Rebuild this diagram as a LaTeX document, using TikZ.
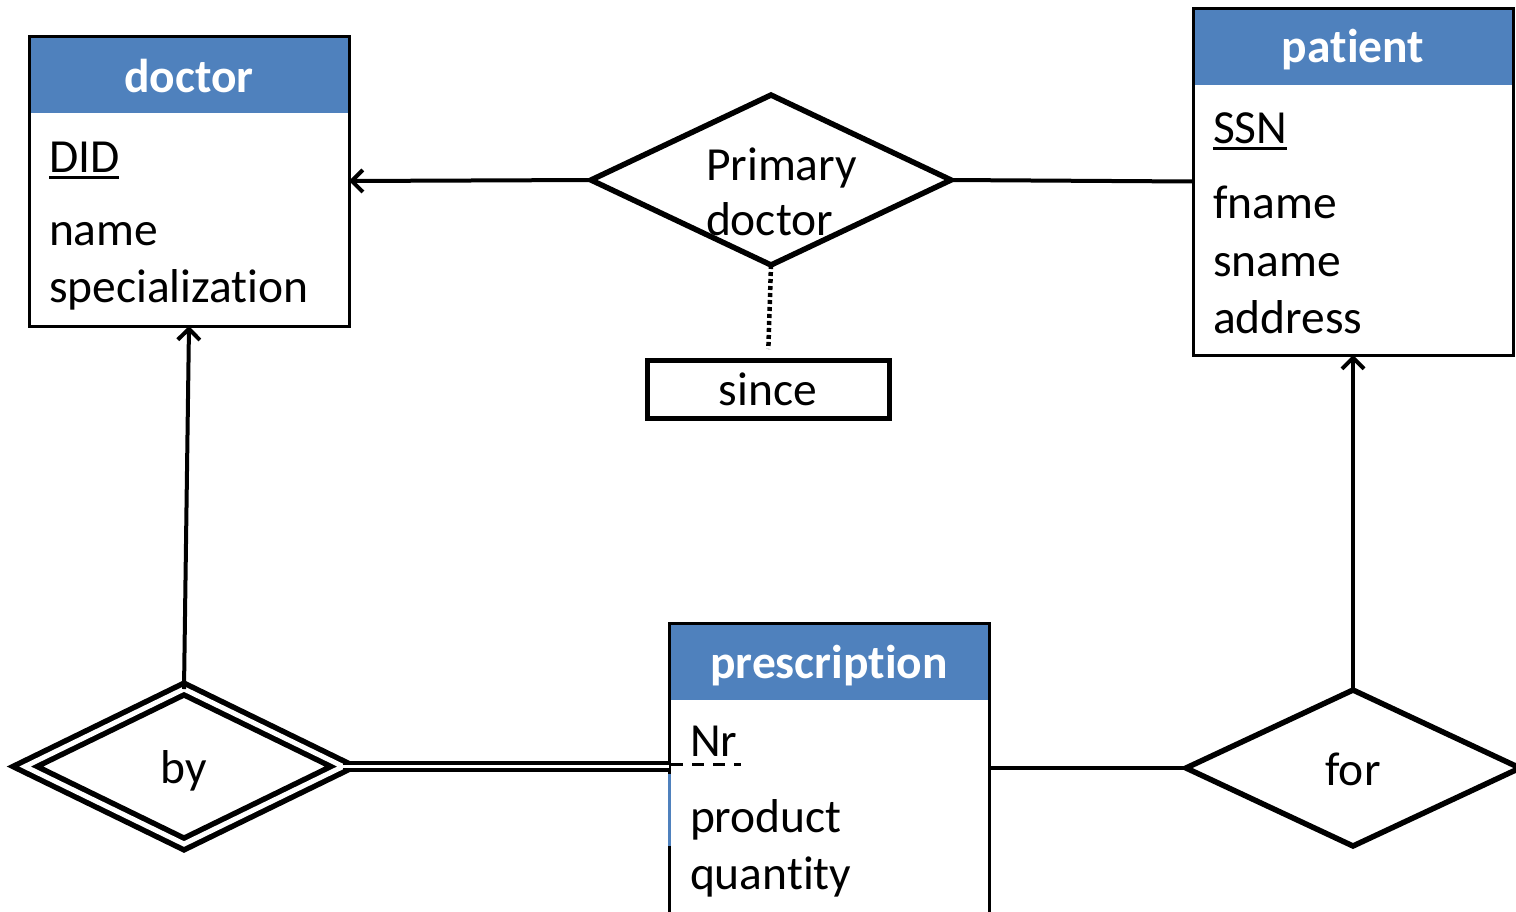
\documentclass[tikz,border=0pt]{standalone}
\usepackage{fontspec}
\setmainfont{Carlito}[Ligatures=NoCommon]
\usetikzlibrary{shapes.geometric,arrows.meta,calc}
\definecolor{hdr}{HTML}{4F81BD}
\begin{document}
\begin{tikzpicture}[x=1pt,y=-1pt,
  every node/.style={font=\fontsize{47.5pt}{57pt}\selectfont, inner sep=0pt, outer sep=0pt},
  hdrbox/.style={fill=hdr, minimum width=320pt, minimum height=77pt, anchor=north west},
  entbox/.style={draw, line width=3pt, minimum width=320pt, anchor=north west},
  hdrtxt/.style={text=white, font=\fontsize{47.5pt}{57pt}\selectfont\bfseries, anchor=base},
  attr/.style={anchor=base west},
  rel/.style={diamond, draw, line width=5.5pt},
  conn/.style={line width=4pt},
  arr/.style={conn, -{Straight Barb[length=11pt,width=22pt]}},
  dbl/.style={double, line width=4pt, double distance=3.5pt},
  uline/.style={line width=3pt},
]
\useasboundingbox (0,0) rectangle (1516,911);

% doctor
\node[hdrbox] (doctorH) at (29,36) {};
\node[entbox, minimum height=290pt] (doctor) at (29,36) {};
\node[hdrtxt] (doctorT) at (189,92) {doctor};
\node[attr] (did) at (49,172) {DID};
\draw[uline] ($(did.base west)+(0,5)$) -- ($(did.base east)+(0,5)$);
\node[attr] (dname) at (49,245) {name};
\node[attr] (dspec) at (49,302) {specialization};

% patient
\node[hdrbox] (patientH) at (1193,8) {};
\node[entbox, minimum height=347pt] (patient) at (1193,8) {};
\node[hdrtxt] (patientT) at (1353,62) {patient};
\node[attr] (ssn) at (1213,143) {SSN};
\draw[uline] ($(ssn.base west)+(0,5)$) -- ($(ssn.base east)+(0,5)$);
\node[attr] (fname) at (1213,218) {fname};
\node[attr] (sname) at (1213,276) {sname};
\node[attr] (addr) at (1213,333) {address};

% prescription
\node[hdrbox] (prescH) at (669,623) {};
\node[entbox, minimum height=310pt] (presc) at (669,623) {};
\node[hdrtxt] (prescT) at (829,678) {prescription};
\node[attr] (nr) at (690,756) {Nr};
\draw[uline, dash pattern=on 12pt off 9pt] ($(presc.north west)+(2,141)$) -- ($(presc.north west)+(72,141)$);
\node[attr] (prod) at (690,832) {product};
\node[attr] (qty) at (690,889) {quantity};
\draw[hdr, line width=3pt] ($(presc.north west)+(0,151)$) -- ($(presc.north west)+(0,223)$);

% relationships
\node[rel, minimum width=360pt, minimum height=170pt] (pd) at (771,180) {};
\node[anchor=base west] (pdT1) at (706,180) {Primary};
\node[anchor=base west] (pdT2) at (706,235) {doctor};
\node[draw, line width=5pt, minimum width=242pt, minimum height=58pt] (since) at (768,389) {since};
\draw[line width=4.5pt, dash pattern=on 4pt off 3pt, shorten >=11pt] (pd.south) -- (since.north);

\node[rel, double, line width=5.5pt, double distance=5pt, minimum width=318pt, minimum height=155pt] (by) at (184,766.5) {};
\node[anchor=base] (byT) at (184,783) {by};

\node[rel, minimum width=334pt, minimum height=156pt] (for) at (1353,768) {};
\node[anchor=base] (forT) at (1353,785) {for};

% connectors
\draw[arr] (pd.west) -- (doctor.east);
\draw[conn] (pd.east) -- (patient.west);
\draw[arr] (by.north) -- (doctor.south);
\draw[arr] (for.north) -- (patient.south);
\draw[dbl] (by.east) -- (presc.west |- by.east);
\draw[conn] (presc.east |- for.west) -- (for.west);
\end{tikzpicture}
\end{document}
